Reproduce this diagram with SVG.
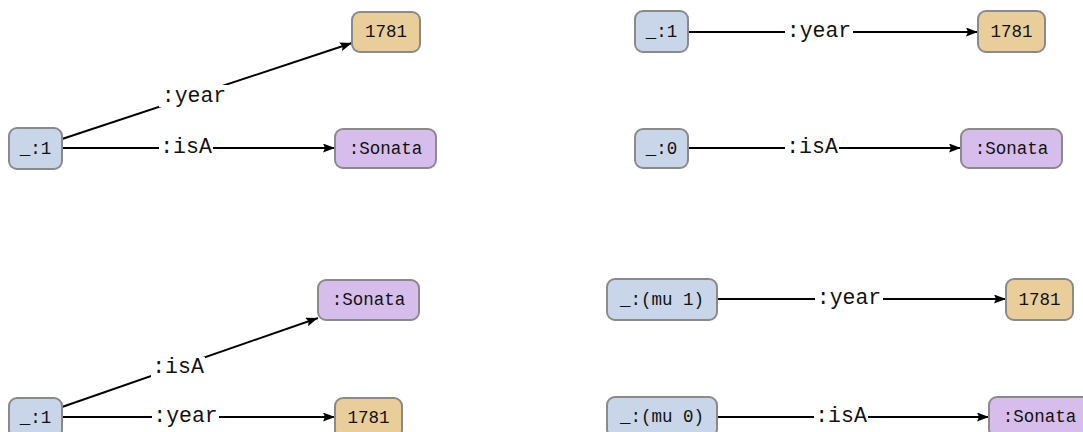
<svg xmlns="http://www.w3.org/2000/svg" width="1083" height="432" viewBox="0 0 1083 432">
<style>
.n rect{stroke:#8a8a8a;stroke-width:2}
.b rect{fill:#c9d5e8}
.y rect{fill:#e9cd9b}
.p rect{fill:#d7bdec}
.n text{font-family:"Liberation Mono",monospace;font-size:17.5px;fill:#111;text-anchor:middle;dominant-baseline:central}
.e line{stroke:#000;stroke-width:1.9;fill:none}
.e .a{marker-end:url(#ah)}
.lb{fill:#fff}
.lt{font-family:"Liberation Mono",monospace;font-size:21.5px;fill:#111;text-anchor:middle;dominant-baseline:central}
</style>
<defs>
<marker id="ah" viewBox="0 0 12 9" refX="12" refY="4.5" markerWidth="12" markerHeight="9" markerUnits="userSpaceOnUse" orient="auto">
<path d="M0,0 L12,4.5 L0,9 L2,4.5 z" fill="#000"/>
</marker>
</defs>
<g id="edges" class="e">
<!-- TL -->
<line class="a" x1="62" y1="139" x2="352" y2="43"/>
<rect class="lb" x="159" y="85" width="69" height="22"/>
<text class="lt" x="194" y="96">:year</text>
<line class="a" x1="62" y1="148" x2="335" y2="148"/>
<rect class="lb" x="159" y="137" width="54" height="22"/>
<text class="lt" x="186" y="147">:isA</text>
<!-- TR -->
<line class="a" x1="688" y1="32" x2="978" y2="32"/>
<rect class="lb" x="785" y="21" width="68" height="22"/>
<text class="lt" x="819" y="31">:year</text>
<line class="a" x1="688" y1="148" x2="961" y2="148"/>
<rect class="lb" x="785" y="137" width="54" height="22"/>
<text class="lt" x="812" y="147">:isA</text>
<!-- BL -->
<line class="a" x1="62" y1="407" x2="318" y2="318"/>
<rect class="lb" x="151" y="357" width="54" height="22"/>
<text class="lt" x="178" y="367">:isA</text>
<line class="a" x1="62" y1="417" x2="335" y2="417"/>
<rect class="lb" x="152" y="406" width="67" height="22"/>
<text class="lt" x="185.5" y="416">:year</text>
<!-- BR -->
<line class="a" x1="717" y1="299" x2="1006" y2="299"/>
<rect class="lb" x="815" y="288" width="68" height="22"/>
<text class="lt" x="849" y="298">:year</text>
<line class="a" x1="717" y1="417" x2="989" y2="417"/>
<rect class="lb" x="814" y="406" width="54" height="22"/>
<text class="lt" x="841" y="416">:isA</text>
</g>
<g id="tl-s" class="n b"><rect x="9" y="128" width="53" height="41" rx="8"/><text x="35.5" y="148.5">_:1</text></g>
<g id="tl-year" class="n y"><rect x="352" y="12" width="68" height="40" rx="8"/><text x="386" y="32">1781</text></g>
<g id="tl-sonata" class="n p"><rect x="335" y="129" width="101" height="39" rx="8"/><text x="385.5" y="148.5">:Sonata</text></g>

<g id="tr-s1" class="n b"><rect x="635" y="11" width="53" height="41" rx="8"/><text x="661.5" y="31.5">_:1</text></g>
<g id="tr-year" class="n y"><rect x="978" y="11" width="67" height="41" rx="8"/><text x="1011.5" y="31.5">1781</text></g>
<g id="tr-s0" class="n b"><rect x="635" y="129" width="53" height="39" rx="8"/><text x="661.5" y="148.5">_:0</text></g>
<g id="tr-sonata" class="n p"><rect x="961" y="129" width="101" height="39" rx="8"/><text x="1011.5" y="148.5">:Sonata</text></g>

<g id="bl-sonata" class="n p"><rect x="318" y="280" width="101" height="40" rx="8"/><text x="368.5" y="300">:Sonata</text></g>
<g id="bl-s" class="n b"><rect x="9" y="398" width="53" height="40" rx="8"/><text x="35.5" y="418">_:1</text></g>
<g id="bl-year" class="n y"><rect x="335" y="398" width="67" height="40" rx="8"/><text x="368.5" y="418">1781</text></g>

<g id="br-s1" class="n b"><rect x="607" y="279" width="110" height="41" rx="8"/><text x="662" y="299.5">_:(mu 1)</text></g>
<g id="br-year" class="n y"><rect x="1006" y="279" width="67" height="41" rx="8"/><text x="1039.5" y="299.5">1781</text></g>
<g id="br-s0" class="n b"><rect x="607" y="397" width="110" height="40" rx="8"/><text x="662" y="417">_:(mu 0)</text></g>
<g id="br-sonata" class="n p"><rect x="989" y="397" width="101" height="40" rx="8"/><text x="1039.5" y="417">:Sonata</text></g>
</svg>
